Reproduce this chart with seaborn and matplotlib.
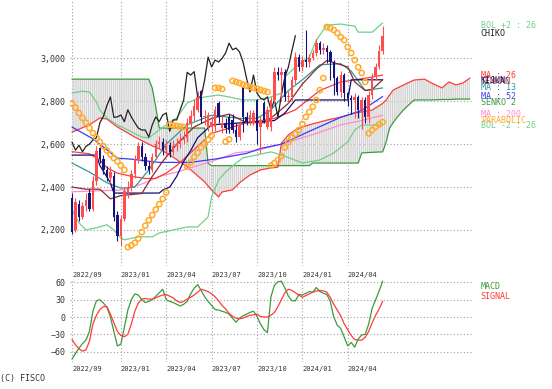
import numpy as np
import pandas as pd
import matplotlib
matplotlib.use('Agg')
import matplotlib.pyplot as plt
import seaborn as sns

sns.set_style('white')
plt.rcParams['font.family'] = ['DejaVu Sans Mono']

# weekly candles, week 0 = 2022/09 (last week 89)
opens = [2350, 2200, 2320, 2260, 2310, 2370, 2300, 2430, 2580, 2530,
         2480, 2440, 2450, 2270, 2170, 2250, 2370, 2400, 2460, 2530,
         2590, 2540, 2500, 2480, 2540, 2600, 2610, 2572, 2595, 2565,
         2590, 2600, 2620, 2630, 2700, 2730, 2760, 2850, 2725, 2675,
         2680, 2680, 2792, 2675, 2700, 2727, 2713, 2666, 2633, 2866,
         2727, 2705, 2699, 2806, 2680, 2792, 2680, 2680, 2806, 2935,
         2922, 2938, 2820, 2820, 2899, 3006, 2960, 2992, 2983, 3000,
         3025, 3071, 3040, 3048, 3030, 2983, 2908, 2843, 2922, 2838,
         2815, 2806, 2820, 2759, 2806, 2727, 2830, 2913, 2960, 3035]
closes = [2190, 2330, 2260, 2310, 2340, 2300, 2430, 2570, 2530, 2480,
          2450, 2470, 2260, 2170, 2250, 2380, 2400, 2460, 2530, 2590,
          2540, 2500, 2480, 2540, 2600, 2610, 2572, 2595, 2565, 2590,
          2600, 2620, 2630, 2700, 2730, 2780, 2820, 2725, 2727, 2736,
          2705, 2760, 2727, 2700, 2675, 2666, 2666, 2633, 2690, 2727,
          2705, 2736, 2745, 2660, 2713, 2713, 2760, 2806, 2935, 2922,
          2938, 2820, 2820, 2899, 3006, 2960, 2992, 2983, 3000, 3025,
          3071, 3040, 3048, 3030, 2983, 2908, 2843, 2922, 2838, 2815,
          2806, 2820, 2759, 2806, 2727, 2830, 2913, 2960, 3035, 3106]
highs = [2370, 2350, 2340, 2330, 2370, 2390, 2450, 2590, 2600, 2550,
         2500, 2500, 2470, 2290, 2270, 2400, 2430, 2480, 2550, 2610,
         2610, 2560, 2520, 2560, 2620, 2640, 2630, 2620, 2610, 2620,
         2630, 2650, 2660, 2720, 2760, 2810, 2850, 2852, 2760, 2750,
         2730, 2780, 2800, 2730, 2720, 2740, 2740, 2700, 2710, 2870,
         2750, 2760, 2760, 2810, 2730, 2800, 2780, 2820, 2960, 2960,
         2960, 2950, 2850, 2920, 3030, 3020, 3010, 3130, 3020, 3040,
         3090, 3080, 3070, 3060, 3040, 2990, 2920, 2940, 2930, 2850,
         2830, 2840, 2830, 2820, 2820, 2850, 2930, 2980, 3060, 3150]
lows = [2180, 2190, 2240, 2250, 2290, 2290, 2290, 2410, 2510, 2460,
        2430, 2420, 2240, 2150, 2125, 2240, 2350, 2380, 2440, 2510,
        2520, 2480, 2460, 2470, 2530, 2580, 2550, 2550, 2540, 2550,
        2570, 2580, 2600, 2610, 2680, 2710, 2750, 2700, 2690, 2660,
        2650, 2660, 2700, 2650, 2650, 2650, 2650, 2610, 2620, 2656,
        2690, 2690, 2690, 2600, 2560, 2700, 2670, 2660, 2790, 2900,
        2800, 2800, 2790, 2800, 2880, 2940, 2940, 2960, 2960, 2990,
        3010, 3020, 3020, 2980, 2900, 2830, 2830, 2820, 2800, 2780,
        2740, 2720, 2720, 2670, 2700, 2700, 2810, 2900, 2950, 3020]

tick_wk = [0, 14, 27, 40, 53, 66, 79]
tick_lab = ['2022/09', '2023/01', '2023/04', '2023/07', '2023/10', '2024/01', '2024/04']

ma13_wk = [0, 5, 10, 14, 18, 22, 27, 33, 40, 48, 53, 57, 62, 66, 71, 77, 80, 84, 89]
ma13 = [2512, 2470, 2420, 2395, 2400, 2480, 2600, 2690, 2735, 2720, 2720, 2760, 2850, 2900, 2970, 2975, 2940, 2850, 2862]
ma26_wk = [0, 5, 8, 10, 13, 17, 21, 24, 27, 30, 40, 50, 58, 64, 71, 77, 81, 85, 89]
ma26 = [2565, 2555, 2525, 2490, 2465, 2450, 2440, 2440, 2465, 2500, 2650, 2700, 2720, 2760, 2850, 2890, 2900, 2910, 2922]
ma52_wk = [0, 6, 13, 17, 25, 34, 42, 50, 54, 60, 68, 77, 83, 89]
ma52 = [2680, 2625, 2535, 2530, 2515, 2515, 2533, 2557, 2580, 2600, 2660, 2725, 2757, 2822]
ma200_wk = [0, 15, 21, 25, 30, 40, 47, 53, 60, 70, 77, 83, 89]
ma200 = [2378, 2387, 2420, 2450, 2470, 2520, 2560, 2570, 2600, 2650, 2690, 2710, 2735]

bolu_wk = [0, 3, 5, 7, 8, 10, 13, 16, 20, 22, 25, 28, 30, 33, 35, 38, 42, 45, 49, 53, 57, 60, 61, 64, 68, 70, 73, 77, 81, 82, 86, 89]
bolu = [2838, 2847, 2843, 2796, 2759, 2722, 2689, 2666, 2633, 2629, 2666, 2703, 2722, 2792, 2806, 2820, 2829, 2820, 2806, 2806, 2820, 2838, 2913, 2959, 3006, 3085, 3155, 3160, 3150, 3122, 3122, 3165]
bold_wk = [0, 2, 4, 7, 10, 12, 14, 15, 19, 23, 25, 29, 33, 36, 39, 40, 42, 44, 47, 49, 53, 57, 60, 66, 71, 75, 79, 81, 83, 89]
bold = [2293, 2233, 2200, 2210, 2224, 2200, 2163, 2154, 2168, 2168, 2186, 2200, 2214, 2214, 2261, 2354, 2433, 2470, 2512, 2536, 2550, 2564, 2550, 2512, 2526, 2559, 2610, 2666, 2689, 2689]

tenkan_wk = [0, 4, 8, 11, 14, 17, 20, 23, 26, 30, 35, 40, 45, 50, 55, 58, 62, 66, 70, 73, 76, 79, 81, 84, 86, 89]
tenkan = [2400, 2390, 2390, 2345, 2360, 2365, 2370, 2450, 2520, 2600, 2680, 2720, 2740, 2700, 2700, 2735, 2790, 2880, 2950, 2990, 2975, 2960, 2890, 2850, 2855, 2900]
kijun_wk = [0, 7, 8, 11, 12, 25, 26, 28, 30, 32, 34, 36, 38, 40, 58, 61, 64, 79, 80, 89]
kijun = [2549, 2549, 2500, 2420, 2372, 2372, 2386, 2400, 2450, 2520, 2570, 2630, 2660, 2690, 2710, 2745, 2806, 2806, 2900, 2900]

# senkou spans, already shifted 25 weeks ahead, on one common week grid
cloud_wk = [0, 5, 8, 10, 13, 16, 18, 22, 23, 24, 25, 28, 33, 38, 39, 40, 42, 43, 46, 48,
            51, 54, 57, 59, 60, 62, 64, 66, 68, 69, 70, 73, 77, 81, 82, 83, 86, 89, 90, 91,
            92, 93, 95, 98, 101, 103, 106, 108, 110, 112, 114]
span1 = [2656, 2690, 2722, 2717, 2680, 2652, 2633, 2600, 2592, 2585, 2578, 2550, 2495, 2424, 2405, 2386, 2354, 2377, 2387, 2420,
         2456, 2480, 2489, 2493, 2605, 2643, 2666, 2680, 2690, 2695, 2699, 2712, 2726, 2745, 2748, 2750, 2759, 2790, 2806, 2829,
         2852, 2860, 2876, 2899, 2903, 2885, 2862, 2890, 2876, 2885, 2908]
span2 = [2903, 2903, 2903, 2903, 2903, 2903, 2903, 2903, 2861, 2773, 2675, 2675, 2675, 2675, 2510, 2500, 2500, 2500, 2500, 2500,
         2500, 2500, 2500, 2500, 2500, 2500, 2500, 2500, 2500, 2512, 2512, 2512, 2512, 2512, 2512, 2559, 2562, 2564, 2610, 2675,
         2700, 2722, 2760, 2806, 2806, 2806, 2808, 2808, 2810, 2810, 2810]

sar_wk = list(range(0, 16)) + list(range(16, 28)) + list(range(28, 33)) + list(range(33, 41)) + \
    list(range(41, 44)) + [44, 45] + list(range(46, 57)) + list(range(57, 73)) + list(range(73, 85)) + list(range(85, 90))
sar = [2790, 2770, 2745, 2722, 2700, 2675, 2652, 2630, 2610, 2590, 2570, 2552, 2535, 2520, 2500, 2480,
       2120, 2128, 2140, 2160, 2190, 2220, 2245, 2270, 2295, 2320, 2345, 2375,
       2690, 2688, 2685, 2682, 2680,
       2495, 2515, 2540, 2560, 2585, 2600, 2620, 2640,
       2862, 2862, 2857,
       2612, 2622,
       2895, 2890, 2885, 2878, 2872, 2866, 2862, 2858, 2853, 2848, 2843,
       2500, 2512, 2526, 2545, 2585, 2610, 2630, 2648, 2666, 2694, 2727, 2750, 2775, 2806, 2852, 2908,
       3146, 3141, 3132, 3118, 3099, 3085, 3053, 3025, 2992, 2959, 2932, 2890,
       2650, 2666, 2680, 2692, 2703]

macd = [-73, -63, -54, -46, -40, -25, 10, 28, 30, 24,
        17, 0, -25, -50, -47, -18, 12, 30, 40, 38,
        30, 25, 27, 30, 36, 42, 48, 30, 27, 25,
        22, 19, 22, 27, 40, 50, 56, 46, 35, 27,
        20, 13, 12, 10, 8, 5, -2, -9, -2, 2,
        5, 8, 10, 1, -12, -22, -27, 35, 55, 61,
        62, 50, 36, 28, 28, 39, 38, 41, 44, 43,
        51, 44, 41, 39, 27, 0, -14, -20, -35, -50,
        -44, -52, -38, -31, -30, -12, 15, 30, 45, 62]
signal = [-39, -48, -55, -59, -57, -42, -12, 3, 13, 18,
          18, 5, -10, -25, -32, -34, -30, -12, 10, 24,
          31, 32, 31, 31, 33, 36, 38, 39, 36, 33,
          28, 25, 27, 31, 34, 38, 43, 48, 46, 44,
          40, 35, 28, 20, 14, 6, 1, -2, -3, -2,
          1, 3, 4, 5, 1, 0, 0, 3, 8, 18,
          30, 42, 48, 46, 42, 38, 34, 37, 40, 43,
          45, 46, 45, 43, 34, 22, 12, 2, -12, -22,
          -32, -39, -40, -40, -35, -25, -10, 3, 14, 27]

# right-hand series names and the price level where each is written
label_txt = ['BOL +2 : 26', 'CHIKO', 'TENKAN', 'KIJUN', 'MA : 26', 'MA : 13',
             'MA : 52', 'SENKO 2', 'MA : 200', 'BOL -2 : 26', 'PARABOLIC']
label_lvl = [3155, 3118, 2890, 2899, 2918, 2862, 2820, 2796, 2736, 2689, 2708]

C_UP, C_DN = '#ff4d4d', '#14147a'
C_GRID = '#a0a0a0'
C_TXT = '#333333'
C_BOL, C_S2, C_RED = '#6fd08a', '#3c9a3c', '#ff3b3b'
C_MA13, C_MA52, C_MA200 = '#2f9a9a', '#3a3aff', '#ff8ccc'
C_KIJUN, C_TENKAN, C_CHIKO, C_SAR = '#101070', '#8b2a2a', '#222222', '#ffaa2a'
label_col = [C_BOL, C_CHIKO, C_TENKAN, C_KIJUN, C_RED, C_MA13,
             C_MA52, C_S2, C_MA200, C_BOL, C_SAR]

weeks = np.arange(len(closes))
price = pd.DataFrame({'wk': weeks, 'open': opens, 'close': closes, 'high': highs, 'low': lows})
price['up'] = price['close'] >= price['open']

fig = plt.figure(figsize=(5.52, 3.89), dpi=100)
ax = fig.add_axes([70 / 552, 1 - 266 / 389, 402 / 552, 266 / 389])
mx = fig.add_axes([70 / 552, 1 - 362 / 389, 402 / 552, 82 / 389])

# ichimoku cloud, vertical hatching between the two spans
ax.fill_between(cloud_wk, span1, span2, facecolor='none', edgecolor='#d2d2d2',
                hatch='||||||||', linewidth=0)

line_style = dict(linewidth=0.9, legend=False, ax=ax)
sns.lineplot(x=cloud_wk, y=span2, color=C_S2, **line_style)
sns.lineplot(x=cloud_wk, y=span1, color=C_RED, **line_style)
sns.lineplot(x=bolu_wk, y=bolu, color=C_BOL, **line_style)
sns.lineplot(x=bold_wk, y=bold, color=C_BOL, **line_style)
sns.lineplot(x=ma200_wk, y=ma200, color=C_MA200, **line_style)
sns.lineplot(x=ma52_wk, y=ma52, color=C_MA52, **line_style)
sns.lineplot(x=ma26_wk, y=ma26, color=C_RED, **line_style)
sns.lineplot(x=ma13_wk, y=ma13, color=C_MA13, **line_style)
sns.lineplot(x=kijun_wk, y=kijun, color=C_KIJUN, **line_style)
sns.lineplot(x=tenkan_wk, y=tenkan, color=C_TENKAN, **line_style)

# chiko span: closes drawn 25 weeks back
sns.lineplot(x=weeks[25:] - 25, y=closes[25:], color=C_CHIKO, **line_style)

# candles
for up, col in [(True, C_UP), (False, C_DN)]:
    sub = price[price['up'] == up]
    ax.vlines(sub['wk'], sub['low'], sub['high'], color=col, linewidth=0.8, zorder=3)
    ax.bar(sub['wk'], (sub['close'] - sub['open']).abs().clip(lower=4),
           bottom=sub[['open', 'close']].min(axis=1), width=0.7, color=col, linewidth=0, zorder=3)

ax.scatter(sar_wk, sar, s=14, facecolors='none', edgecolors=C_SAR, linewidths=1.1, zorder=4)

ax.set_xlim(-0.57, 114.6)
ax.set_ylim(2032, 3272)
ax.set_yticks([2200, 2400, 2600, 2800, 3000])
ax.set_yticklabels([f'{v:,}' for v in [2200, 2400, 2600, 2800, 3000]])
ax.set_xticks(tick_wk)
ax.set_xticklabels(tick_lab, ha='left')

# MACD panel
sns.lineplot(x=weeks, y=macd, color=C_S2, linewidth=0.9, ax=mx)
sns.lineplot(x=weeks, y=signal, color=C_RED, linewidth=0.9, ax=mx)
mx.set_xlim(-0.57, 114.6)
mx.set_ylim(-77.8, 64)
mx.set_yticks([-60, -30, 0, 30, 60])
mx.set_xticks(tick_wk)
mx.set_xticklabels(tick_lab, ha='left')

for a in (ax, mx):
    a.grid(True, color=C_GRID, linestyle=(0, (1, 2)), linewidth=0.8)
    a.set_axisbelow(True)
    for s in a.spines.values():
        s.set_visible(False)
    a.tick_params(length=0, labelsize=6, colors=C_TXT)
    a.tick_params(axis='x', labelsize=5, pad=3)
    a.set_xlabel('')
    a.set_ylabel('')
ax.tick_params(axis='x', pad=4.5)

tr = ax.get_yaxis_transform()
for txt, yv, col in zip(label_txt, label_lvl, label_col):
    ax.text(1.022, yv, txt, transform=tr, color=col, fontsize=6, va='center', ha='left', clip_on=False)

mx.text(1.022, 0.92, 'MACD', transform=mx.transAxes, color=C_S2, fontsize=6, va='center')
mx.text(1.022, 0.80, 'SIGNAL', transform=mx.transAxes, color=C_RED, fontsize=6, va='center')

fig.text(0.0, 1 - 379 / 389, '(C) FISCO', color=C_TXT, fontsize=6, va='center')

fig.savefig('out.png', dpi=100)
